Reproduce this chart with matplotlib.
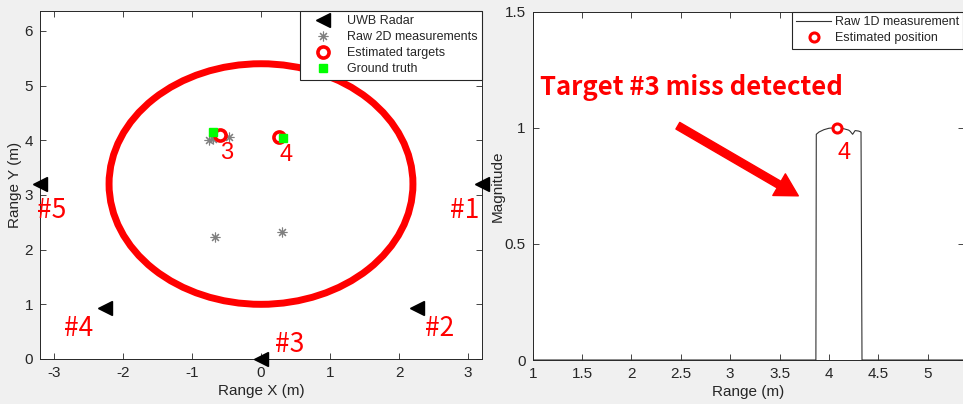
import numpy as np
import matplotlib.pyplot as plt
from matplotlib.patches import Ellipse

# Данные: левый график (2D сцена)
radar_x = [3.2, 2.26, 0.0, -2.26, -3.2]
radar_y = [3.2, 0.94, 0.0, 0.94, 3.2]
radar_names = ['#1', '#2', '#3', '#4', '#5']
name_x = [2.95, 2.58, 0.42, -2.64, -3.03]
name_y = [2.72, 0.56, 0.26, 0.56, 2.72]

raw2d_x = [-0.75, -0.69, -0.47, -0.67, 0.31]
raw2d_y = [4.00, 4.02, 4.06, 2.24, 2.33]

est_x = [-0.60, 0.26]
est_y = [4.10, 4.06]
est_ids = ['3', '4']
truth_x = [-0.69, 0.32]
truth_y = [4.16, 4.05]

area_center = (0.0, 3.2)
area_radius = 2.2

# Данные: правый график (1D измерение)
range_m = [1.0, 3.868, 3.872, 3.90, 3.95, 4.00, 4.05, 4.10, 4.15, 4.20,
           4.215, 4.24, 4.265, 4.30, 4.325, 4.335, 5.6]
magnitude = [0.0, 0.0, 0.972, 0.982, 0.992, 0.998, 1.0, 0.999, 0.996, 0.99,
             0.985, 0.972, 0.988, 0.986, 0.982, 0.0, 0.0]
est_range = [4.08]
est_mag = [1.0]

plt.rcParams['font.family'] = ['Liberation Sans', 'DejaVu Sans']
plt.rcParams['axes.unicode_minus'] = False
txt = '#262626'
red = '#ff0000'

fig = plt.figure(figsize=(9.63, 4.04), dpi=100, facecolor='#f0f0f0')

def style_axes(ax):
    ax.tick_params(direction='in', top=True, right=True, length=4, width=0.6,
                   labelsize=11, colors=txt, pad=5)
    for s in ax.spines.values():
        s.set_color(txt)
        s.set_linewidth(0.7)

# ---- левый график ----
ax1 = fig.add_axes([40 / 963, 45 / 404, 442 / 963, 348.3 / 404])
ax1.add_patch(Ellipse(area_center, 2 * area_radius, 2 * area_radius,
                      fill=False, edgecolor=red, lw=5, zorder=2))
ax1.plot(radar_x, radar_y, ls='none', marker='<', ms=9.5, color='black',
         label='UWB Radar', clip_on=False, zorder=4)
ax1.plot(raw2d_x, raw2d_y, ls='none', marker=(8, 2, 0), ms=7, mew=0.8,
         color='#808080', label='Raw 2D measurements', zorder=3)
ax1.plot(est_x, est_y, ls='none', marker='o', ms=8, mew=2.6, mec=red,
         mfc='white', label='Estimated targets', zorder=4)
ax1.plot(truth_x, truth_y, ls='none', marker='s', ms=5.5, color='#00ff00',
         label='Ground truth', zorder=5)
for x, y, s in zip(est_x, est_y, est_ids):
    ax1.text(x + 0.1, y - 0.33, s, color=red, fontsize=17, ha='center', va='center')
for x, y, s in zip(name_x, name_y, radar_names):
    ax1.text(x, y, s, color=red, fontsize=19, ha='center', va='center',
             family=['Noto Sans CJK SC', 'DejaVu Sans'])
ax1.set_xlim(-3.2, 3.2)
ax1.set_ylim(0, 6.37)
ax1.set_xticks(range(-3, 4))
ax1.set_yticks(range(0, 7))
ax1.set_xlabel('Range X (m)', fontsize=11, color=txt, labelpad=3)
ax1.set_ylabel('Range Y (m)', fontsize=11, color=txt, labelpad=2)
style_axes(ax1)
leg = ax1.legend(loc='upper right', bbox_to_anchor=(1.0, 1.0), fontsize=9,
                 frameon=True, fancybox=False, framealpha=1, edgecolor=txt,
                 borderaxespad=0, handlelength=2.9, handletextpad=0.5,
                 labelspacing=0.33, borderpad=0.35)
leg.get_frame().set_linewidth(0.8)
for tx in leg.get_texts():
    tx.set_color(txt)

# ---- правый график ----
ax2 = fig.add_axes([532.7 / 963, 44 / 404, 431.5 / 963, 348.3 / 404])
ax2.plot(range_m, magnitude, color='#333333', lw=0.8, label='Raw 1D measurement')
ax2.plot(est_range, est_mag, ls='none', marker='o', ms=6.5, mew=2.2, mec=red,
         mfc='white', label='Estimated position', zorder=4)
ax2.text(est_range[0] + 0.07, 0.89, '4', color=red, fontsize=17, ha='center', va='center')
ax2.text(1.074, 1.172, 'Target #3 miss detected', color=red, fontsize=18.5,
         fontweight='bold', ha='left', va='center',
         family=['Noto Sans CJK SC', 'DejaVu Sans'])
ax2.annotate('', xy=(3.69, 0.707), xytext=(2.47, 1.009),
             arrowprops=dict(color=red, width=5.5, headwidth=18, headlength=16,
                             shrink=0))
ax2.set_xlim(1, 5.37)
ax2.set_ylim(0, 1.5)
ax2.set_xticks(np.arange(1, 5.5, 0.5))
ax2.set_xticklabels(['1', '1.5', '2', '2.5', '3', '3.5', '4', '4.5', '5'])
ax2.set_yticks([0, 0.5, 1, 1.5])
ax2.set_yticklabels(['0', '0.5', '1', '1.5'])
ax2.set_xlabel('Range (m)', fontsize=11, color=txt, labelpad=3)
ax2.set_ylabel('Magnitude', fontsize=11, color=txt, labelpad=0)
style_axes(ax2)
leg2 = ax2.legend(loc='upper left', bbox_to_anchor=(259 / 431.5, 1.0), fontsize=9,
                  frameon=True, fancybox=False, framealpha=1, edgecolor=txt,
                  borderaxespad=0, handlelength=2.8, handletextpad=0.3,
                  labelspacing=0.33, borderpad=0.35)
leg2.get_frame().set_linewidth(0.8)
for tx in leg2.get_texts():
    tx.set_color(txt)

fig.savefig('out.png', dpi=100, facecolor=fig.get_facecolor())
